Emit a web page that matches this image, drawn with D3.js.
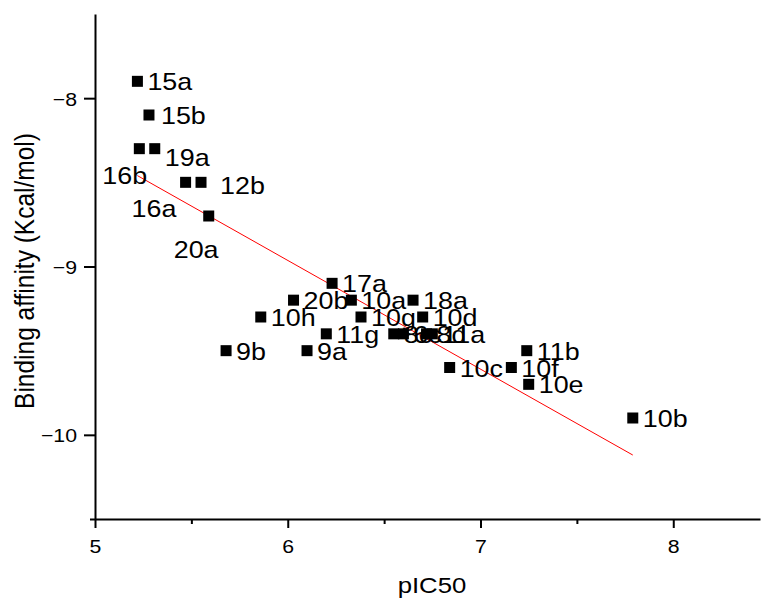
<!DOCTYPE html>
<html>
<head>
<meta charset="utf-8">
<script src="https://cdn.jsdelivr.net/npm/d3@7"></script>
<style>
  body { margin: 0; background: #fff; }
  text { font-family: "Liberation Sans", Arial, Helvetica, sans-serif; fill: #000; }
</style>
</head>
<body>
<svg id="chart" width="762" height="598"></svg>
<script>
// compounds
var compounds = ['15a', '15b', '16b', '19a', '16a', '12b', '20a', '17a', '20b', '10a', '18a', '10h', '10g',
                 '10d', '11g', '8c', '6c', '8d', '11a', '9a', '9b', '10c', '10f', '11b', '10e', '10b'];
var pIC50 = [5.22, 5.28, 5.23, 5.31, 5.47, 5.55, 5.59, 6.23, 6.03, 6.33, 6.65, 5.86, 6.38,
             6.70, 6.20, 6.55, 6.60, 6.72, 6.75, 6.10, 5.68, 6.84, 7.16, 7.24, 7.25, 7.79];
var affinity = [-7.9, -8.1, -8.3, -8.3, -8.5, -8.5, -8.7, -9.1, -9.2, -9.2, -9.2, -9.3, -9.3,
                -9.3, -9.4, -9.4, -9.4, -9.4, -9.4, -9.5, -9.5, -9.6, -9.6, -9.5, -9.7, -9.9];

// linear fit line ends
var fitX = [5.22, 7.79];
var fitY = [-8.46, -10.12];

var xTicks = [5, 6, 7, 8];
var xMinor = [5.5, 6.5, 7.5];
var yTicks = [-8, -9, -10];
var yMinor = [-10.5];

// labels that are not placed to the right of their marker (px offsets)
var labelNudge = {
  '16b': [-37, 35],
  '19a': [10, 17],
  '16a': [-54, 35],
  '12b': [19, 12],
  '20a': [-35, 42],
  '15b': [12, 9]
};

var stretch = 1.12; // the glyphs in the picture are a bit wide

var svg = d3.select('#chart');

var x = d3.scaleLinear().domain([5, 8.45]).range([95, 760]);
var y = d3.scaleLinear().domain([-10.5, -7.5]).range([519, 14]);

// minor ticks first, so the major ones sit on top
svg.append('g')
   .attr('transform', 'translate(0,' + y(-10.5) + ')')
   .call(d3.axisBottom(x).tickValues(xMinor).tickSize(5).tickSizeOuter(0).tickFormat(''))
   .call(function(g) { g.select('.domain').remove(); });

svg.append('g')
   .attr('transform', 'translate(' + x(5) + ',0)')
   .call(d3.axisLeft(y).tickValues(yMinor).tickSize(5).tickSizeOuter(0).tickFormat(''))
   .call(function(g) { g.select('.domain').remove(); });

var xAxis = svg.append('g')
   .attr('class', 'x axis')
   .attr('transform', 'translate(0,' + y(-10.5) + ')')
   .call(d3.axisBottom(x).tickValues(xTicks).tickSize(9).tickSizeOuter(0).tickFormat(d3.format('d')));

var yAxis = svg.append('g')
   .attr('class', 'y axis')
   .attr('transform', 'translate(' + x(5) + ',0)')
   .call(d3.axisLeft(y).tickValues(yTicks).tickSize(11).tickSizeOuter(0).tickFormat(d3.format('d')));

svg.selectAll('.domain, .tick line').attr('stroke', '#000').attr('stroke-width', 2);

xAxis.selectAll('.tick text')
     .attr('y', 0).attr('dy', 0)
     .attr('font-size', 19)
     .attr('text-anchor', 'middle')
     .attr('transform', 'translate(0,34) scale(' + stretch + ',1)');

yAxis.selectAll('.tick text')
     .attr('x', 0).attr('dy', 0)
     .attr('font-size', 19)
     .attr('text-anchor', 'end')
     .attr('transform', 'translate(-18,7) scale(' + stretch + ',1)');

// axis titles
svg.append('text')
   .attr('text-anchor', 'middle')
   .attr('font-size', 23)
   .attr('transform', 'translate(432,593) scale(' + stretch + ',1)')
   .text('pIC50');

svg.append('text')
   .attr('text-anchor', 'middle')
   .attr('font-size', 24.5)
   .attr('transform', 'translate(34,271) scale(' + stretch + ',1) rotate(-90)')
   .text('Binding affinity (Kcal/mol)');

// fit line
svg.append('line')
   .attr('x1', x(fitX[0])).attr('y1', y(fitY[0]))
   .attr('x2', x(fitX[1])).attr('y2', y(fitY[1]))
   .attr('stroke', '#ff0000')
   .attr('stroke-width', 1);

// points
var size = 11;
var points = svg.append('g').selectAll('g')
   .data(compounds).enter()
   .append('g')
   .attr('transform', function(d, i) {
     return 'translate(' + x(pIC50[i]) + ',' + y(affinity[i]) + ')';
   });

points.append('rect')
      .attr('x', -size / 2).attr('y', -size / 2)
      .attr('width', size).attr('height', size)
      .attr('fill', '#000');

points.append('text')
      .attr('font-size', 24)
      .attr('transform', function(d) {
        var off = labelNudge[d] || [10, 9];
        return 'translate(' + off[0] + ',' + off[1] + ') scale(' + stretch + ',1)';
      })
      .text(function(d) { return d; });
</script>
</body>
</html>
